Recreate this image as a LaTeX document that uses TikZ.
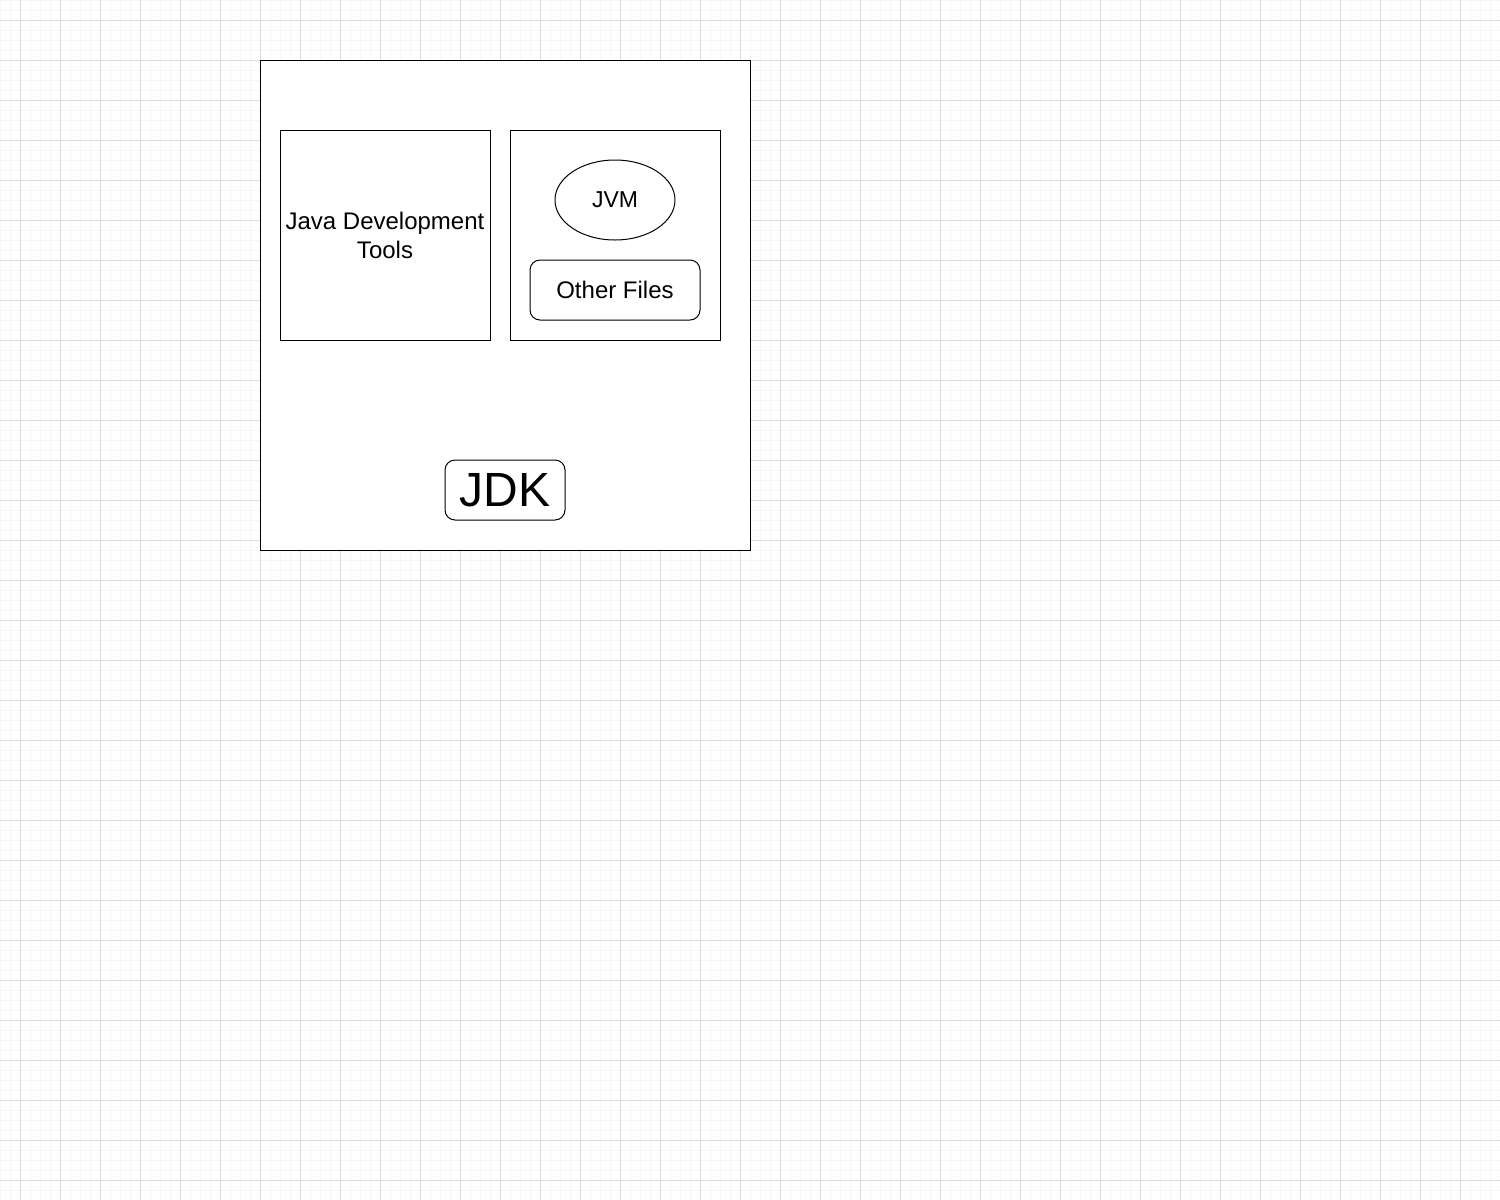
\documentclass[tikz,border=0pt]{standalone}
\usepackage{fontspec}
\setmainfont{Liberation Sans}
\usetikzlibrary{shapes.geometric}

\definecolor{minorgrid}{HTML}{F6F6F6}
\definecolor{majorgrid}{HTML}{DCDCDC}

\tikzset{
  part/.style={draw,line width=0.5pt,fill=white,inner sep=1pt,align=center},
  sqbox/.style={part,minimum width=105pt,minimum height=105pt},
  roundbox/.style={part,rounded corners=5pt},
}

\begin{document}
\begin{tikzpicture}[x=0.5pt,y=-0.5pt]
      \useasboundingbox (0,0) rectangle (1500,1200);
      % background grid
      \fill[white] (0,0) rectangle (1500,1200);
      \foreach \i in {0,10,...,1500} \draw[minorgrid,line width=0.5pt] (\i,0) -- (\i,1200);
      \foreach \j in {0,10,...,1200} \draw[minorgrid,line width=0.5pt] (0,\j) -- (1500,\j);
      \foreach \i in {20,60,...,1500} \draw[majorgrid,line width=0.5pt] (\i,0) -- (\i,1200);
      \foreach \j in {20,60,...,1200} \draw[majorgrid,line width=0.5pt] (0,\j) -- (1500,\j);

      \node[part,minimum width=245pt,minimum height=245pt](jdkbox) at (505,305) {};
      \node[sqbox,font=\fontsize{12}{14.5}\selectfont](tools) at (385,235) {Java Development\\Tools};
      \node[sqbox](jre) at (615,235) {};
      \node[part,ellipse,minimum width=60pt,minimum height=40pt,font=\fontsize{11.5}{14}\selectfont](jvm) at (615,200) {JVM};
      \node[roundbox,minimum width=85pt,minimum height=30pt,font=\fontsize{12}{14}\selectfont](others) at (615,290) {Other Files};
      \node[roundbox,minimum width=60pt,minimum height=30pt,font=\fontsize{24}{28}\selectfont](jdk) at (505,490) {JDK};
    \end{tikzpicture}
\end{document}
